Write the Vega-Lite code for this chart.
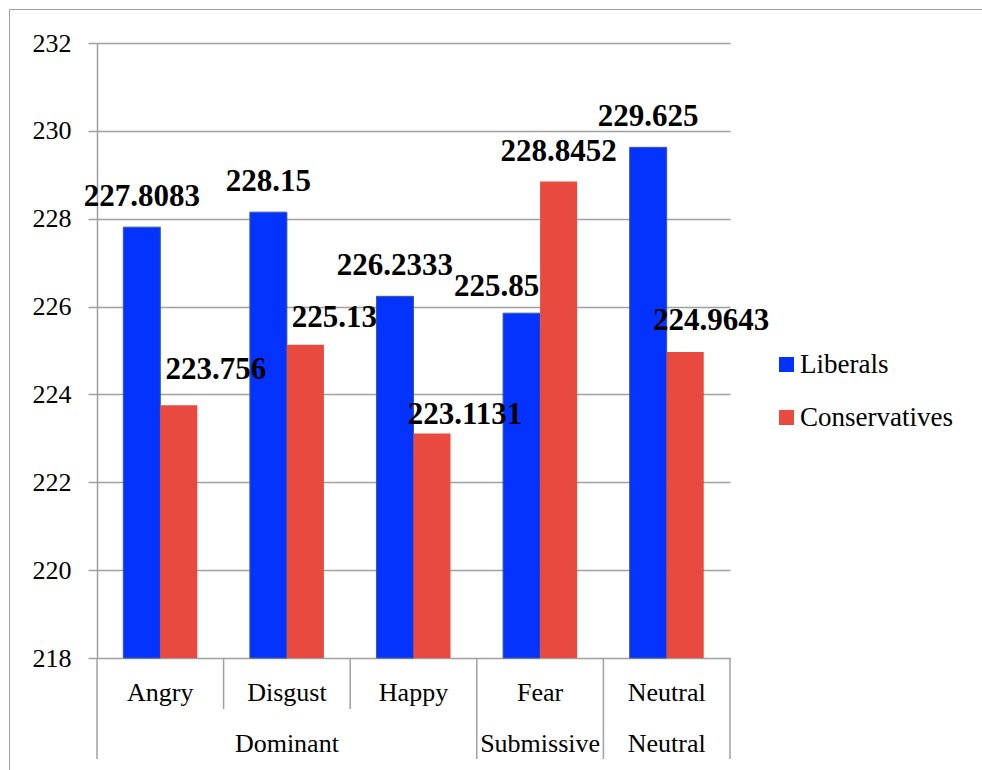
{
  "$schema": "https://vega.github.io/schema/vega-lite/v6.json",
  "width": 973,
  "height": 761,
  "autosize": {"type": "none"},
  "padding": {"left": 9, "top": 9, "right": 0, "bottom": 0},
  "background": "white",
  "config": {
    "font": "Liberation Serif",
    "view": {"stroke": "#a0a0a0", "strokeWidth": 1, "strokeDash": [973, 1734, 761]}
  },
  "datasets": {
    "scores": [
      {"emotion": "Angry", "series": "Liberals", "value": 227.8083},
      {"emotion": "Angry", "series": "Conservatives", "value": 223.756},
      {"emotion": "Disgust", "series": "Liberals", "value": 228.15},
      {"emotion": "Disgust", "series": "Conservatives", "value": 225.13},
      {"emotion": "Happy", "series": "Liberals", "value": 226.2333},
      {"emotion": "Happy", "series": "Conservatives", "value": 223.1131},
      {"emotion": "Fear", "series": "Liberals", "value": 225.85},
      {"emotion": "Fear", "series": "Conservatives", "value": 228.8452},
      {"emotion": "Neutral", "series": "Liberals", "value": 229.625},
      {"emotion": "Neutral", "series": "Conservatives", "value": 224.9643}
    ],
    "edges": [
      {"emotion": "Angry", "reach": "full"},
      {"emotion": "Disgust", "reach": "short"},
      {"emotion": "Happy", "reach": "short"},
      {"emotion": "Fear", "reach": "full"},
      {"emotion": "Neutral", "reach": "full"}
    ],
    "groups": [
      {"group": "Dominant", "anchor": "Disgust"},
      {"group": "Submissive", "anchor": "Fear"},
      {"group": "Neutral", "anchor": "Neutral"}
    ]
  },
  "layer": [
    {
      "data": {"name": "scores"},
      "mark": {"type": "bar"},
      "encoding": {
        "x": {
          "field": "emotion", "type": "nominal",
          "sort": ["Angry", "Disgust", "Happy", "Fear", "Neutral"],
          "scale": {"domain": ["Angry", "Disgust", "Happy", "Fear", "Neutral"], "range": [88, 721], "paddingInner": 0, "paddingOuter": 0},
          "axis": null
        },
        "xOffset": {
          "field": "series", "type": "nominal",
          "sort": ["Liberals", "Conservatives"],
          "scale": {"domain": ["Liberals", "Conservatives"], "paddingInner": 0, "paddingOuter": 0.71}
        },
        "y": {
          "field": "value", "type": "quantitative",
          "scale": {"domain": [218, 232], "range": [649, 34], "nice": false, "zero": false},
          "axis": {
            "title": null,
            "orient": "left",
            "offset": -88,
            "values": [218, 220, 222, 224, 226, 228, 230, 232],
            "format": "d",
            "grid": true,
            "gridColor": "#a0a0a0",
            "gridWidth": 1.5,
            "domainColor": "#a0a0a0",
            "domainWidth": 1.5,
            "tickColor": "#a0a0a0",
            "tickWidth": 1.5,
            "tickSize": 9,
            "labelFont": "Liberation Serif",
            "labelFontSize": 26,
            "labelColor": "black",
            "labelPadding": 17
          }
        },
        "y2": {"datum": 218},
        "color": {
          "field": "series", "type": "nominal",
          "sort": ["Liberals", "Conservatives"],
          "scale": {"domain": ["Liberals", "Conservatives"], "range": ["#0433FF", "#E84A3F"]},
          "legend": {
            "orient": "none",
            "legendX": 764,
            "legendY": 342,
            "title": null,
            "symbolType": "square",
            "symbolSize": 225,
            "symbolStrokeWidth": 0,
            "labelFont": "Liberation Serif",
            "labelFontSize": 27,
            "labelColor": "black",
            "labelOffset": 0,
            "rowPadding": 25
          }
        },
        "stroke": {
          "condition": {"test": "datum.series === 'Liberals'", "value": "#3b5b8f"},
          "value": "transparent"
        }
      }
    },
    {
      "data": {"name": "edges"},
      "transform": [{"filter": "datum.reach === 'short'"}],
      "mark": {"type": "rule", "color": "#a0a0a0", "strokeWidth": 1.5},
      "encoding": {
        "x": {"field": "emotion", "type": "nominal", "bandPosition": 0, "axis": null},
        "y": {"datum": 218, "type": "quantitative", "title": null},
        "y2": {"datum": 216.84}
      }
    },
    {
      "data": {"name": "edges"},
      "transform": [{"filter": "datum.reach === 'full'"}],
      "mark": {"type": "rule", "color": "#a0a0a0", "strokeWidth": 1.5},
      "encoding": {
        "x": {"field": "emotion", "type": "nominal", "bandPosition": 0, "axis": null},
        "y": {"datum": 218, "type": "quantitative", "title": null},
        "y2": {"datum": 215.7}
      }
    },
    {
      "data": {"name": "edges"},
      "transform": [{"filter": "datum.emotion === 'Neutral'"}],
      "mark": {"type": "rule", "color": "#a0a0a0", "strokeWidth": 1.5},
      "encoding": {
        "x": {"field": "emotion", "type": "nominal", "bandPosition": 1, "axis": null},
        "y": {"datum": 218, "type": "quantitative", "title": null},
        "y2": {"datum": 215.7}
      }
    },
    {
      "data": {"name": "scores"},
      "transform": [{"filter": "indexof(['Angry|Liberals','Disgust|Liberals','Happy|Liberals','Neutral|Liberals','Fear|Conservatives'], datum.emotion + '|' + datum.series) >= 0"}],
      "mark": {"type": "text", "font": "Liberation Serif", "fontWeight": "bold", "fontSize": 31, "baseline": "alphabetic", "align": "center", "dy": -21, "color": "black"},
      "encoding": {
        "x": {"field": "emotion", "type": "nominal", "axis": null},
        "xOffset": {"field": "series", "type": "nominal"},
        "y": {"field": "value", "type": "quantitative", "title": null},
        "text": {"field": "value", "type": "nominal"}
      }
    },
    {
      "data": {"name": "scores"},
      "transform": [{"filter": "datum.emotion === 'Angry' && datum.series === 'Conservatives'"}],
      "mark": {"type": "text", "font": "Liberation Serif", "fontWeight": "bold", "fontSize": 31, "baseline": "alphabetic", "align": "center", "dx": 37, "dy": -26, "color": "black"},
      "encoding": {
        "x": {"field": "emotion", "type": "nominal", "axis": null},
        "xOffset": {"field": "series", "type": "nominal"},
        "y": {"field": "value", "type": "quantitative", "title": null},
        "text": {"field": "value", "type": "nominal"}
      }
    },
    {
      "data": {"name": "scores"},
      "transform": [{"filter": "datum.emotion === 'Disgust' && datum.series === 'Conservatives'"}],
      "mark": {"type": "text", "font": "Liberation Serif", "fontWeight": "bold", "fontSize": 31, "baseline": "alphabetic", "align": "center", "dx": 29, "dy": -18, "color": "black"},
      "encoding": {
        "x": {"field": "emotion", "type": "nominal", "axis": null},
        "xOffset": {"field": "series", "type": "nominal"},
        "y": {"field": "value", "type": "quantitative", "title": null},
        "text": {"field": "value", "type": "nominal"}
      }
    },
    {
      "data": {"name": "scores"},
      "transform": [{"filter": "datum.emotion === 'Happy' && datum.series === 'Conservatives'"}],
      "mark": {"type": "text", "font": "Liberation Serif", "fontWeight": "bold", "fontSize": 31, "baseline": "alphabetic", "align": "center", "dx": 33, "dy": -9, "color": "black"},
      "encoding": {
        "x": {"field": "emotion", "type": "nominal", "axis": null},
        "xOffset": {"field": "series", "type": "nominal"},
        "y": {"field": "value", "type": "quantitative", "title": null},
        "text": {"field": "value", "type": "nominal"}
      }
    },
    {
      "data": {"name": "scores"},
      "transform": [{"filter": "datum.emotion === 'Fear' && datum.series === 'Liberals'"}],
      "mark": {"type": "text", "font": "Liberation Serif", "fontWeight": "bold", "fontSize": 31, "baseline": "alphabetic", "align": "center", "dx": -25, "dy": -17, "color": "black"},
      "encoding": {
        "x": {"field": "emotion", "type": "nominal", "axis": null},
        "xOffset": {"field": "series", "type": "nominal"},
        "y": {"field": "value", "type": "quantitative", "title": null},
        "text": {"field": "value", "type": "nominal"}
      }
    },
    {
      "data": {"name": "scores"},
      "transform": [{"filter": "datum.emotion === 'Neutral' && datum.series === 'Conservatives'"}],
      "mark": {"type": "text", "font": "Liberation Serif", "fontWeight": "bold", "fontSize": 31, "baseline": "alphabetic", "align": "center", "dx": 26, "dy": -22, "color": "black"},
      "encoding": {
        "x": {"field": "emotion", "type": "nominal", "axis": null},
        "xOffset": {"field": "series", "type": "nominal"},
        "y": {"field": "value", "type": "quantitative", "title": null},
        "text": {"field": "value", "type": "nominal"}
      }
    },
    {
      "data": {"name": "scores"},
      "transform": [{"filter": "datum.series === 'Liberals'"}],
      "mark": {"type": "text", "font": "Liberation Serif", "fontSize": 26, "baseline": "alphabetic", "align": "center", "color": "black"},
      "encoding": {
        "x": {"field": "emotion", "type": "nominal", "axis": null},
        "y": {"datum": 217.02, "type": "quantitative", "title": null},
        "text": {"field": "emotion", "type": "nominal"}
      }
    },
    {
      "data": {"name": "groups"},
      "mark": {"type": "text", "font": "Liberation Serif", "fontSize": 26, "baseline": "alphabetic", "align": "center", "color": "black"},
      "encoding": {
        "x": {"field": "anchor", "type": "nominal", "axis": null},
        "y": {"datum": 215.86, "type": "quantitative", "title": null},
        "text": {"field": "group", "type": "nominal"}
      }
    }
  ]
}
